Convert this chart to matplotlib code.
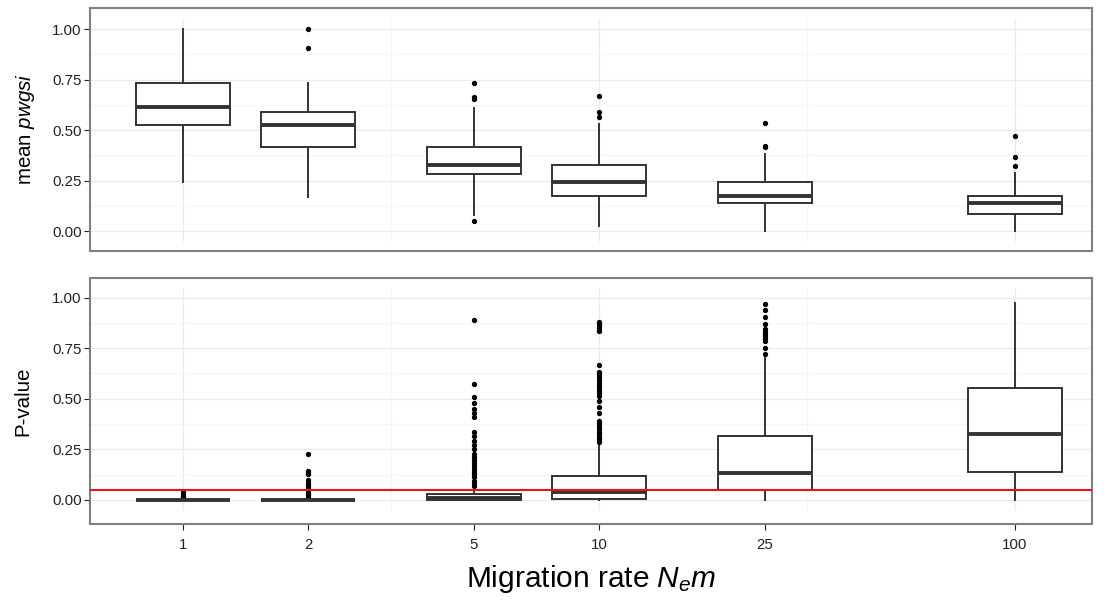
import numpy as np
import matplotlib
matplotlib.use("Agg")
import matplotlib.pyplot as plt

plt.rcParams['font.family'] = ['Liberation Sans', 'DejaVu Sans']
plt.rcParams['mathtext.fontset'] = 'custom'
plt.rcParams['mathtext.rm'] = 'Liberation Sans'
plt.rcParams['mathtext.it'] = 'Liberation Sans:italic'

# ---------------- data ----------------
nem = [1, 2, 5, 10, 25, 100]
tick_labels = ["1", "2", "5", "10", "25", "100"]

# top panel: mean pwgsi
top_whislo = [0.244, 0.170, 0.079, 0.025, 0.0, 0.0]
top_q1 = [0.523, 0.416, 0.282, 0.172, 0.137, 0.083]
top_med = [0.612, 0.525, 0.328, 0.244, 0.172, 0.137]
top_q3 = [0.733, 0.591, 0.417, 0.328, 0.244, 0.173]
top_whishi = [1.00, 0.731, 0.610, 0.531, 0.380, 0.289]
top_fliers = [
    [],
    [1.00, 0.904],
    [0.733, 0.665, 0.653, 0.051],
    [0.667, 0.591, 0.566],
    [0.535, 0.422, 0.416],
    [0.470, 0.368, 0.323],
]

# bottom panel: P-value
bot_whislo = [0.0, 0.0, 0.0, 0.0, 0.0, 0.0]
bot_q1 = [0.0, 0.0, 0.001, 0.007, 0.049, 0.138]
bot_med = [0.0, 0.0, 0.010, 0.040, 0.135, 0.325]
bot_q3 = [0.0, 0.0, 0.028, 0.120, 0.315, 0.552]
bot_whishi = [0.0, 0.0, 0.062, 0.280, 0.712, 0.975]
bot_fliers = [
    [0.037, 0.028, 0.020, 0.012],
    [0.226, 0.145, 0.135, 0.127, 0.099, 0.083, 0.074, 0.062, 0.049, 0.036,
     0.025, 0.013],
    [0.888, 0.575, 0.509, 0.478, 0.451, 0.430, 0.409, 0.335, 0.318, 0.293,
     0.272, 0.252, 0.226, 0.211, 0.198, 0.184, 0.168, 0.153, 0.140, 0.127,
     0.112, 0.095, 0.082, 0.069],
    [0.881, 0.870, 0.860, 0.850, 0.836, 0.667, 0.634, 0.621, 0.606, 0.593,
     0.580, 0.565, 0.552, 0.539, 0.527, 0.514, 0.489, 0.458, 0.428, 0.392,
     0.379, 0.366, 0.351, 0.338, 0.325, 0.313, 0.300, 0.288],
    [0.970, 0.939, 0.903, 0.868, 0.844, 0.832, 0.821, 0.808, 0.796, 0.786,
     0.750, 0.720],
    [],
]
threshold = 0.05

# ---------------- figure ----------------
W, H = 1105, 605
fig = plt.figure(figsize=(W / 100, H / 100), dpi=100)


def fr(x0, y0, x1, y1):
    return [x0 / W, 1 - y1 / H, (x1 - x0) / W, (y1 - y0) / H]


ax_top = fig.add_axes(fr(90, 8, 1092, 251))
ax_bot = fig.add_axes(fr(90, 278, 1092, 524))

pos = np.log10(nem)
box_w = 0.226
line_col = '#333333'
tick_col = '#222222'


def draw(ax, wl, q1, med, q3, wh, fl, ylim):
    stats = []
    for i in range(len(nem)):
        stats.append(dict(whislo=wl[i], q1=q1[i], med=med[i], q3=q3[i],
                          whishi=wh[i], fliers=fl[i]))
    # grid
    for v in [0, 0.25, 0.5, 0.75, 1.0]:
        ax.axhline(v, color='#ebebeb', lw=1.0, zorder=0)
    for v in [0.125, 0.375, 0.625, 0.875]:
        ax.axhline(v, color='#f5f5f5', lw=0.8, zorder=0)
    ax.vlines([0, 1, 2], -0.05, 1.05, color='#ebebeb', lw=1.0, zorder=0)
    ax.vlines([0.5, 1.5], -0.05, 1.05, color='#f5f5f5', lw=0.8, zorder=0)

    ax.bxp(stats, positions=pos, widths=box_w, showcaps=False,
           patch_artist=True,
           boxprops=dict(facecolor='white', edgecolor=line_col, linewidth=1.4),
           whiskerprops=dict(color=line_col, linewidth=1.4),
           medianprops=dict(color=line_col, linewidth=2.8,
                            solid_capstyle='butt'),
           flierprops=dict(marker='o', markerfacecolor='black',
                           markeredgecolor='black', markersize=2.8,
                           linestyle='none'),
           zorder=2)
    ax.set_xlim((90 - 183) / 416, (1092 - 183) / 416)
    ax.set_ylim(*ylim)
    ax.set_yticks([0, 0.25, 0.5, 0.75, 1.0])
    ax.set_yticklabels(["0.00", "0.25", "0.50", "0.75", "1.00"])
    ax.set_xticks(pos)
    for s in ax.spines.values():
        s.set_color('#808080')
        s.set_linewidth(1.5)
    ax.tick_params(axis='both', colors=tick_col, labelcolor=tick_col,
                   labelsize=10.8, length=4, width=0.8, pad=2)


draw(ax_top, top_whislo, top_q1, top_med, top_q3, top_whishi, top_fliers,
     (-0.099, 1.104))
draw(ax_bot, bot_whislo, bot_q1, bot_med, bot_q3, bot_whishi, bot_fliers,
     (-0.119, 1.097))

ax_bot.axhline(threshold, color='#e8141c', lw=1.5, zorder=3)

ax_top.tick_params(axis='x', length=0, labelbottom=False)
ax_bot.set_xticklabels(tick_labels)
ax_bot.tick_params(axis='x', pad=6)

ax_top.set_ylabel(r'mean $\mathit{pwgsi}$', fontsize=14.8, color='black')
ax_bot.set_ylabel('P-value', fontsize=14.8, color='black')
ax_top.yaxis.set_label_coords(-0.053, 0.5)
ax_bot.yaxis.set_label_coords(-0.058, 0.5)

ax_bot.set_xlabel(r'Migration rate $N_{e}m$', fontsize=21.5, color='black',
                  labelpad=8)

fig.savefig('out.png', dpi=100)
